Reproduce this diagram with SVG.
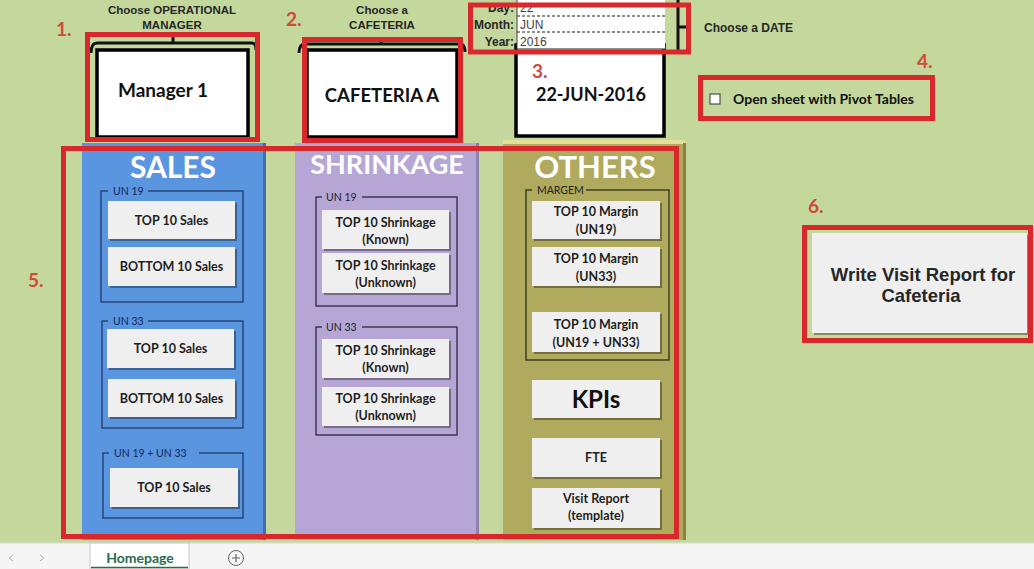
<svg xmlns="http://www.w3.org/2000/svg" width="1034" height="569" viewBox="0 0 1034 569">
<defs>
<style>
.bg{fill:#c4d79c}
.red{fill:none;stroke:#d8282c;stroke-width:5}
.num{font-family:Lato,"Open Sans",sans-serif;font-weight:bold;font-size:19px;fill:#cf4a3c}
.ar{font-family:"Liberation Sans",Arial,sans-serif;font-weight:bold;fill:#262626}
.wbox{fill:#fff;stroke:#000;stroke-width:3.5}
.big{font-family:Lato,"Open Sans",sans-serif;font-weight:bold;fill:#111;text-anchor:middle}
.title{font-family:Lato,"Open Sans",sans-serif;font-weight:bold;fill:#fff;text-anchor:middle}
.btn{fill:#efefef}
.sh{fill:#000;opacity:0.35}
.bt{font-family:Lato,"Open Sans",sans-serif;font-weight:bold;font-size:12.5px;fill:#1e1e1e;text-anchor:middle}
.grp{fill:none;stroke-width:1.3}
.gl{font-family:Lato,"Open Sans",sans-serif;font-size:10.5px}
.brace{fill:none;stroke:#111;stroke-width:3}
</style>
</defs>
<rect class="bg" x="0" y="0" width="1034" height="543"/>

<!-- Header labels -->
<g id="label-manager">
<text class="ar" x="172" y="14" font-size="11.5" text-anchor="middle">Choose OPERATIONAL</text>
<text class="ar" x="172" y="29" font-size="11.5" text-anchor="middle">MANAGER</text>
</g>
<g id="label-cafeteria">
<text class="ar" x="382" y="14" font-size="11.5" text-anchor="middle">Choose a</text>
<text class="ar" x="382" y="29" font-size="11.5" text-anchor="middle">CAFETERIA</text>
</g>

<!-- Manager selector -->
<g id="manager">
<rect class="wbox" x="97" y="50" width="151" height="87"/>
<path class="brace" d="M91,53 Q91,43 97,43 L252,43 Q256,43 256,50 M173,43 L173,37"/>
<text class="big" x="163" y="97" font-size="19">Manager 1</text>
</g>

<!-- Cafeteria selector -->
<g id="cafeteria">
<rect class="wbox" x="307" y="50" width="150" height="87"/>
<path class="brace" d="M299,53 Q299,44 305,44 L460,44 Q465,44 465,52 M381,44 L381,38"/>
<text class="big" x="382" y="102" font-size="18.5">CAFETERIA A</text>
</g>

<!-- Date -->
<g id="date">
<rect class="wbox" x="516" y="45" width="148" height="91"/>
<rect x="517" y="0" width="148" height="49" fill="#fff"/>
<line x1="517" y1="49" x2="665" y2="49" stroke="#222" stroke-width="1"/>
<line x1="517" y1="0" x2="517" y2="49" stroke="#444" stroke-width="1"/>
<line x1="517" y1="16" x2="665" y2="16" stroke="#222" stroke-width="1" stroke-dasharray="3,2"/>
<line x1="517" y1="32" x2="665" y2="32" stroke="#222" stroke-width="1" stroke-dasharray="3,2"/>
<text class="ar" x="514" y="12" font-size="12" text-anchor="end" fill="#333">Day:</text>
<text class="ar" x="514" y="29" font-size="12" text-anchor="end" fill="#333">Month:</text>
<text class="ar" x="514" y="46" font-size="12" text-anchor="end" fill="#333">Year:</text>
<text x="520" y="12" font-family="Liberation Sans,Arial,sans-serif" font-size="12" fill="#444">22</text>
<text x="520" y="29" font-family="Liberation Sans,Arial,sans-serif" font-size="12" fill="#444">JUN</text>
<text x="520" y="46" font-family="Liberation Sans,Arial,sans-serif" font-size="12" fill="#444">2016</text>
<path class="brace" d="M678,0 L678,50 M678,27 L688,27"/>
<text class="ar" x="704" y="32" font-size="12">Choose a DATE</text>
<text class="big" x="591" y="101" font-size="18">22-JUN-2016</text>
</g>

<!-- Pivot checkbox -->
<g id="pivot">
<rect x="710" y="94" width="10" height="10" fill="#fff" stroke="#333" stroke-width="1"/>
<text x="733" y="104" font-family="Lato,'Open Sans',sans-serif" font-weight="bold" font-size="14" fill="#111">Open sheet with Pivot Tables</text>
</g>

<!-- SALES column -->
<g id="sales">
<rect x="82" y="143" width="183" height="397" fill="#5a95df"/>
<rect x="263" y="143" width="3" height="397" fill="#3f6fb0"/>
<text class="title" x="173" y="178" font-size="30">SALES</text>
<g stroke="#1f3a6b">
<rect class="grp" x="101" y="191" width="142" height="111"/>
<rect class="grp" x="102" y="321" width="141" height="107"/>
<rect class="grp" x="103" y="453" width="140" height="65"/>
</g>
<rect x="108" y="185" width="40" height="12" fill="#5a95df"/>
<rect x="108" y="315" width="40" height="12" fill="#5a95df"/>
<rect x="109" y="447" width="90" height="12" fill="#5a95df"/>
<text class="gl" x="113" y="195" fill="#14285a">UN 19</text>
<text class="gl" x="113" y="325" fill="#14285a">UN 33</text>
<text class="gl" x="114" y="457" fill="#14285a">UN 19 + UN 33</text>
<rect class="sh" x="110" y="203" width="127" height="38"/><rect class="btn" x="108" y="201" width="127" height="38"/>
<text class="bt" x="171.5" y="225">TOP 10 Sales</text>
<rect class="sh" x="110" y="249" width="127" height="39"/><rect class="btn" x="108" y="247" width="127" height="39"/>
<text class="bt" x="171.5" y="271">BOTTOM 10 Sales</text>
<rect class="sh" x="109" y="331" width="127" height="39"/><rect class="btn" x="107" y="329" width="127" height="39"/>
<text class="bt" x="170.5" y="353">TOP 10 Sales</text>
<rect class="sh" x="110" y="381" width="127" height="38"/><rect class="btn" x="108" y="379" width="127" height="38"/>
<text class="bt" x="171.5" y="403">BOTTOM 10 Sales</text>
<rect class="sh" x="112" y="470" width="128" height="39"/><rect class="btn" x="110" y="468" width="128" height="39"/>
<text class="bt" x="174" y="492">TOP 10 Sales</text>
</g>

<!-- SHRINKAGE column -->
<g id="shrinkage">
<rect x="295" y="143" width="183" height="397" fill="#b6a6d5"/>
<rect x="476" y="143" width="3" height="397" fill="#8d7fb0"/>
<text class="title" x="387" y="174" font-size="27">SHRINKAGE</text>
<g stroke="#2e2540">
<rect class="grp" x="316" y="197" width="141" height="109"/>
<rect class="grp" x="316" y="327" width="141" height="108"/>
</g>
<rect x="322" y="191" width="40" height="12" fill="#b6a6d5"/>
<rect x="322" y="321" width="40" height="12" fill="#b6a6d5"/>
<text class="gl" x="326" y="201" fill="#222">UN 19</text>
<text class="gl" x="326" y="331" fill="#222">UN 33</text>
<rect class="sh" x="324" y="212" width="127" height="39"/><rect class="btn" x="322" y="210" width="127" height="39"/>
<text class="bt" x="385.5" y="227">TOP 10 Shrinkage</text><text class="bt" x="385.5" y="244">(Known)</text>
<rect class="sh" x="324" y="255" width="127" height="40"/><rect class="btn" x="322" y="253" width="127" height="40"/>
<text class="bt" x="385.5" y="270">TOP 10 Shrinkage</text><text class="bt" x="385.5" y="287">(Unknown)</text>
<rect class="sh" x="324" y="341" width="127" height="39"/><rect class="btn" x="322" y="339" width="127" height="39"/>
<text class="bt" x="385.5" y="355">TOP 10 Shrinkage</text><text class="bt" x="385.5" y="372">(Known)</text>
<rect class="sh" x="324" y="389" width="127" height="39"/><rect class="btn" x="322" y="387" width="127" height="39"/>
<text class="bt" x="385.5" y="403">TOP 10 Shrinkage</text><text class="bt" x="385.5" y="420">(Unknown)</text>
</g>

<!-- OTHERS column -->
<g id="others">
<rect x="503" y="143" width="182" height="397" fill="#b0aa5e"/>
<rect x="503" y="140" width="182" height="4" fill="#e6df98"/>
<rect x="683" y="143" width="3" height="397" fill="#8a8444"/>
<text class="title" x="595" y="178" font-size="31">OTHERS</text>
<rect class="grp" x="526" y="190" width="143" height="170" stroke="#2e2e14"/>
<rect x="532" y="184" width="54" height="12" fill="#b0aa5e"/>
<text class="gl" x="537" y="194" fill="#222" font-size="9.5">MARGEM</text>
<rect class="sh" x="534" y="203" width="128" height="38"/><rect class="btn" x="532" y="201" width="128" height="38"/>
<text class="bt" x="596" y="216">TOP 10 Margin</text><text class="bt" x="596" y="234">(UN19)</text>
<rect class="sh" x="534" y="249" width="128" height="39"/><rect class="btn" x="532" y="247" width="128" height="39"/>
<text class="bt" x="596" y="263">TOP 10 Margin</text><text class="bt" x="596" y="281">(UN33)</text>
<rect class="sh" x="534" y="314" width="128" height="40"/><rect class="btn" x="532" y="312" width="128" height="40"/>
<text class="bt" x="596" y="329">TOP 10 Margin</text><text class="bt" x="596" y="347">(UN19 + UN33)</text>
<rect class="sh" x="534" y="382" width="128" height="38"/><rect class="btn" x="532" y="380" width="128" height="38"/>
<text class="big" x="596" y="408" font-size="24">KPIs</text>
<rect class="sh" x="534" y="440" width="128" height="39"/><rect class="btn" x="532" y="438" width="128" height="39"/>
<text class="bt" x="596" y="462">FTE</text>
<rect class="sh" x="534" y="490" width="128" height="40"/><rect class="btn" x="532" y="488" width="128" height="40"/>
<text class="bt" x="596" y="503">Visit Report</text><text class="bt" x="596" y="520">(template)</text>
</g>

<!-- Write visit report button -->
<g id="write-report">
<rect class="sh" x="814" y="235" width="215" height="100"/>
<rect class="btn" x="812" y="233" width="215" height="100"/>
<text class="ar" x="923" y="281" font-size="18.5" text-anchor="middle" fill="#111">Write Visit Report for</text>
<text class="ar" x="921" y="302" font-size="18.5" text-anchor="middle" fill="#111">Cafeteria</text>
</g>

<!-- Red highlight boxes and numbers -->
<g id="highlights">
<rect class="red" x="87.5" y="34.5" width="170" height="105"/>
<rect class="red" x="304.5" y="39.5" width="156" height="101"/>
<rect class="red" x="470.5" y="5" width="218" height="47"/>
<rect class="red" x="700.5" y="77.5" width="232" height="41"/>
<rect class="red" x="63.5" y="148.5" width="613" height="388"/>
<rect class="red" x="804.5" y="227.5" width="226" height="113"/>
<text class="num" x="56" y="36">1.</text>
<text class="num" x="286" y="26">2.</text>
<text class="num" x="532" y="78">3.</text>
<text class="num" x="917" y="68">4.</text>
<text class="num" x="28" y="287">5.</text>
<text class="num" x="808" y="213">6.</text>
</g>

<!-- Sheet tab bar -->
<g id="tabbar">
<rect x="0" y="543" width="1034" height="26" fill="#f5f5f5"/>
<line x1="0" y1="543" x2="1034" y2="543" stroke="#dadada" stroke-width="1"/>
<path d="M13,555 L9,558 L13,561" fill="none" stroke="#b0b0b0" stroke-width="1"/>
<path d="M40,555 L44,558 L40,561" fill="none" stroke="#b0b0b0" stroke-width="1"/>
<rect x="90" y="543" width="99" height="26" fill="#fff" stroke="#c8c8c8" stroke-width="1"/>
<line x1="91" y1="567.5" x2="188" y2="567.5" stroke="#217346" stroke-width="1.5"/>
<text x="140" y="563" font-family="Lato,'Open Sans',sans-serif" font-weight="bold" font-size="14" fill="#2b6a4a" text-anchor="middle">Homepage</text>
<circle cx="236" cy="558" r="7.5" fill="none" stroke="#666" stroke-width="1"/>
<path d="M232,558 L240,558 M236,554 L236,562" stroke="#666" stroke-width="1.2"/>
</g>
</svg>
